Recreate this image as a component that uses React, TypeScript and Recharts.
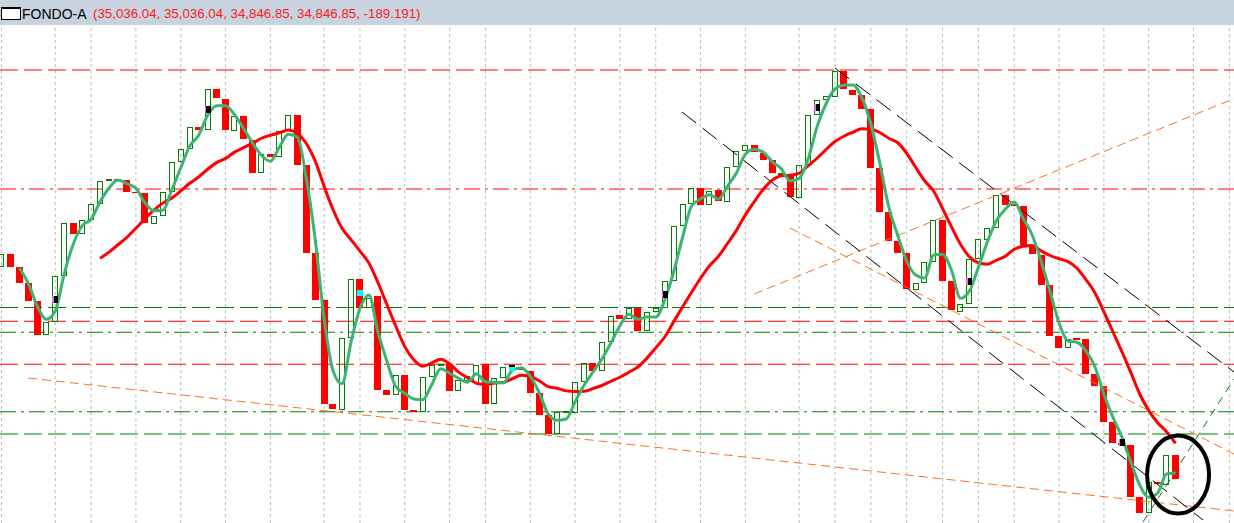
import {
  ComposedChart,
  Bar,
  Line,
  XAxis,
  YAxis,
  ReferenceLine,
  Scatter,
} from 'recharts';

// velas diarias (apertura / cierre)
const OPEN = [
  36543, 36647, 36543, 36415, 36271, 35999, 36103, 36471, 36895, 36807,
  36919, 37047, 37231, 37247, 37239, 37143, 37135, 36887, 36951, 37143,
  37383, 37487, 37663, 37639, 37967, 37887, 37631, 37751, 37559, 37295,
  37447, 37423, 37631, 37759, 37359, 36655, 36279, 35447, 35399, 35975,
  36447, 36215, 36311, 35559, 35519, 35679, 35399, 35383, 35663, 35759,
  35767, 35551, 35631, 35615, 35767, 35447, 35655, 35735, 35735, 35711,
  35535, 35359, 35207, 35383, 35375, 35623, 35775, 35711, 35943, 36159,
  36127, 36215, 36031, 36183, 36215, 36431, 36871, 37047, 37175, 37039,
  37159, 37063, 37343, 37471, 37519, 37455, 37399, 37279, 37287, 37095,
  37359, 37759, 37879, 37903, 38111, 37959, 37919, 37807, 37335, 36983,
  36751, 36655, 36359, 36415, 36583, 36919, 36431, 36183, 36247, 36607,
  36759, 36855, 37119, 37039, 37031, 36719, 36639, 36399, 35991, 35895,
  35975, 35967, 35687, 35591, 35303, 35135, 35119, 34703, 34575, 34823,
  34799, 35036.04,
];

const CLOSE = [
  36647, 36543, 36415, 36271, 35999, 36103, 36471, 36895, 36807, 36919,
  37047, 37231, 37247, 37239, 37143, 37135, 36895, 36951, 37143, 37383,
  37487, 37663, 37639, 37967, 37895, 37639, 37751, 37567, 37295, 37447,
  37423, 37631, 37759, 37359, 36655, 36279, 35447, 35407, 35975, 36447,
  36215, 36295, 35559, 35519, 35679, 35399, 35383, 35663, 35759, 35767,
  35551, 35639, 35671, 35759, 35447, 35655, 35743, 35751, 35719, 35535,
  35359, 35207, 35383, 35391, 35623, 35775, 35711, 35943, 36151, 36127,
  36215, 36031, 36183, 36215, 36431, 36871, 37047, 37175, 37039, 37151,
  37071, 37343, 37471, 37519, 37463, 37399, 37295, 37295, 37103, 37359,
  37759, 37879, 37911, 38111, 37967, 37919, 37807, 37335, 36983, 36751,
  36655, 36367, 36415, 36583, 36919, 36431, 36199, 36247, 36607, 36767,
  36855, 37119, 37039, 37031, 36719, 36647, 36399, 35991, 35895, 35967,
  35959, 35687, 35591, 35303, 35135, 35119, 34703, 34575, 34823, 34807,
  35036.04, 34846.85,
];

// media corta (verde) y media larga (roja)
const MA_FAST = [
  null, null, 36535, 36409, 36229, 36125, 36191, 36489, 36725, 36873,
  36925, 37065, 37175, 37239, 37209, 37173, 37057, 36993, 36997, 37159,
  37337, 37511, 37597, 37757, 37833, 37833, 37761, 37653, 37537, 37437,
  37389, 37501, 37605, 37583, 37257, 36765, 36127, 35711, 35609, 35943,
  36213, 36319, 36023, 35791, 35585, 35533, 35487, 35481, 35601, 35729,
  35693, 35653, 35621, 35689, 35625, 35621, 35615, 35717, 35737, 35669,
  35537, 35367, 35317, 35327, 35465, 35597, 35703, 35809, 35935, 36073,
  36165, 36125, 36143, 36143, 36277, 36505, 36783, 37031, 37087, 37121,
  37087, 37189, 37295, 37445, 37485, 37461, 37385, 37329, 37231, 37253,
  37407, 37665, 37849, 37967, 37997, 37999, 37897, 37687, 37375, 37023,
  36797, 36591, 36479, 36455, 36639, 36645, 36517, 36293, 36351, 36541,
  36743, 36913, 37005, 37063, 36929, 36799, 36589, 36345, 36095, 35951,
  35941, 35871, 35745, 35527, 35343, 35185, 34985, 34799, 34701, 34735,
  34887, 34895,
];

const MA_SLOW = [
  null, null, null, null, null, null, null, null, null, null,
  null, 36613, 36662, 36721, 36781, 36853, 36928, 36998, 37054, 37095,
  37152, 37213, 37263, 37325, 37378, 37412, 37462, 37498, 37532, 37573,
  37597, 37617, 37640, 37614, 37533, 37392, 37188, 37001, 36853, 36761,
  36670, 36574, 36419, 36243, 36069, 35906, 35801, 35749, 35775, 35805,
  35769, 35702, 35657, 35613, 35603, 35614, 35620, 35649, 35677, 35666,
  35633, 35586, 35573, 35552, 35548, 35549, 35571, 35595, 35629, 35661,
  35701, 35743, 35812, 35896, 35983, 36106, 36225, 36341, 36453, 36553,
  36629, 36731, 36836, 36960, 37066, 37165, 37237, 37273, 37277, 37293,
  37353, 37413, 37483, 37547, 37589, 37621, 37650, 37645, 37619, 37573,
  37537, 37453, 37341, 37233, 37151, 37011, 36864, 36725, 36625, 36577,
  36566, 36597, 36629, 36685, 36709, 36715, 36672, 36635, 36609, 36586,
  36533, 36442, 36337, 36185, 36027, 35868, 35700, 35527, 35396, 35297,
  35225, 35132,
];

// marcas de señal sobre algunas velas
const MARK_IDX = [6, 23, 40, 57, 74, 91, 108, 125];
const MARK_LEVEL = [36287, 37807, 36335, 35735, 36327, 37823, 36431, 35143];
const MARK_KIND = ['pivot', 'pivot', 'cyan', 'cyanBar', 'pivot', 'pivot', 'pivot', 'pivot'];

// separadores verticales (semanas)
const GRID_IDX = [0, 6, 10, 15, 20, 25, 30, 36, 40, 45, 50, 54, 59, 64, 69, 73, 78, 83, 89, 93, 97, 101, 105, 109, 113, 118, 123, 128, 133, 137];

// niveles horizontales
const RED_DASHED = [38119, 36109, 35765];
const RED_DASHDOT = [37167];
const GREEN_DASHED = [36219, 35207];
const GREEN_DASHDOT = [36021, 35385];

// lineas de tendencia [[x1, y1], [x2, y2]]
const ORANGE_LINES = [
  [[2.96, 35655], [137.52, 34591]],
  [[83.97, 36327], [137.52, 37890]],
  [[87.98, 36855], [137.52, 35047]],
];
const BLACK_LINES = [
  [[93.0, 38135], [137.52, 35703]],
  [[75.93, 37783], [134.07, 34519]],
];
const GREEN_TREND = [[127.37, 34503], [137.52, 35647]];
const CIRCLE_AT = [131.28, 34883];

const X_MIN = -0.167;
const X_MAX = 137.52;
const Y_MIN = 34495;
const Y_MAX = 38479;

const rows = OPEN.map((o, i) => ({
  i,
  open: o,
  close: CLOSE[i],
  body: [Math.min(o, CLOSE[i]), Math.max(o, CLOSE[i])],
  fast: MA_FAST[i],
  slow: MA_SLOW[i],
}));

const marks = MARK_IDX.map((i, n) => ({ i, lvl: MARK_LEVEL[n], kind: MARK_KIND[n] }));

const Candle = (props: any) => {
  const { x, y, width, height, payload } = props;
  const cx = x + width / 2;
  const h = Math.max(height, 1);
  if (payload.close >= payload.open) {
    return (
      <rect x={cx - 2.5} y={y + 0.5} width={5} height={Math.max(h - 1, 1)}
        fill="none" stroke="#008000" strokeWidth={1} shapeRendering="crispEdges" />
    );
  }
  return <rect x={cx - 3.5} y={y} width={7} height={h} fill="#ff0000" shapeRendering="crispEdges" />;
};

const Marker = (props: any) => {
  const { cx, cy, payload } = props;
  if (payload.kind === 'cyan') {
    return <rect x={cx - 3} y={cy - 3} width={6} height={6} fill="#00ffff" shapeRendering="crispEdges" />;
  }
  if (payload.kind === 'cyanBar') {
    return (
      <g shapeRendering="crispEdges">
        <rect x={cx - 3} y={cy - 3} width={6} height={2} fill="#000" />
        <rect x={cx - 3} y={cy - 1} width={6} height={4} fill="#00ffff" />
      </g>
    );
  }
  return (
    <g shapeRendering="crispEdges">
      <rect x={cx - 3} y={cy - 3.5} width={1.5} height={7} fill="#e070e0" />
      <rect x={cx - 1.5} y={cy - 3.5} width={4.5} height={7} fill="#000" />
    </g>
  );
};

const Ring = (props: any) => {
  const { cx, cy } = props;
  return <ellipse cx={cx} cy={cy} rx={31} ry={39} fill="none" stroke="#000" strokeWidth={4} />;
};

export default function App() {
  return (
    <div style={{ position: 'fixed', left: 0, top: 0, width: 1234, height: 523, background: '#fff', overflow: 'hidden' }}>
      <div style={{ position: 'absolute', left: 0, top: 0, width: 1234, height: 25, background: '#c7d3df', fontFamily: '"Liberation Sans", Arial, sans-serif', whiteSpace: 'pre' }}>
        <div style={{ position: 'absolute', left: 1, top: 7, width: 18, height: 10, border: '1px solid #000', borderTopWidth: 2, background: '#fff' }} />
        <span style={{ position: 'absolute', left: 22, top: 6, fontSize: 14, color: '#000' }}>FONDO-A</span>
        <span style={{ position: 'absolute', left: 93, top: 6, fontSize: 13.3, color: '#ff1a1a' }}>
          (35,036.04, 35,036.04, 34,846.85, 34,846.85, -189.191)
        </span>
      </div>
      <div style={{ position: 'absolute', left: 0, top: 25 }}>
        <ComposedChart width={1234} height={498} data={rows} margin={{ top: 0, right: 0, bottom: 0, left: 0 }}>
          <XAxis type="number" dataKey="i" domain={[X_MIN, X_MAX]} allowDataOverflow hide />
          <YAxis type="number" domain={[Y_MIN, Y_MAX]} allowDataOverflow hide />
          {GRID_IDX.map((g) => (
            <ReferenceLine key={`g${g}`} x={g} stroke="#bdbdbd" strokeDasharray="3 3" zIndex={-10} />
          ))}
          {RED_DASHED.map((v) => (
            <ReferenceLine key={`rd${v}`} y={v} stroke="#ff0000" strokeDasharray="18 6" zIndex={-5} />
          ))}
          {RED_DASHDOT.map((v) => (
            <ReferenceLine key={`rdd${v}`} y={v} stroke="#ff0000" strokeDasharray="16 5 3 5" zIndex={-5} />
          ))}
          {GREEN_DASHED.map((v) => (
            <ReferenceLine key={`gd${v}`} y={v} stroke="#008000" strokeDasharray="18 6" zIndex={-5} />
          ))}
          {GREEN_DASHDOT.map((v) => (
            <ReferenceLine key={`gdd${v}`} y={v} stroke="#008000" strokeDasharray="16 5 3 5" zIndex={-5} />
          ))}
          <Bar dataKey="body" shape={Candle} barSize={7} isAnimationActive={false} />
          <Scatter data={marks} dataKey="lvl" shape={Marker} isAnimationActive={false} />
          {ORANGE_LINES.map((l, n) => (
            <ReferenceLine key={`o${n}`} segment={[{ x: l[0][0], y: l[0][1] }, { x: l[1][0], y: l[1][1] }]}
              stroke="#ff7020" strokeDasharray="9 5" ifOverflow="visible" />
          ))}
          {BLACK_LINES.map((l, n) => (
            <ReferenceLine key={`b${n}`} segment={[{ x: l[0][0], y: l[0][1] }, { x: l[1][0], y: l[1][1] }]}
              stroke="#000" strokeDasharray="18 8" ifOverflow="visible" />
          ))}
          <ReferenceLine segment={[{ x: GREEN_TREND[0][0], y: GREEN_TREND[0][1] }, { x: GREEN_TREND[1][0], y: GREEN_TREND[1][1] }]}
            stroke="#008000" strokeDasharray="8 6" ifOverflow="visible" />
          <Line type="monotone" dataKey="slow" stroke="#ff0000" strokeWidth={3} dot={false} isAnimationActive={false} />
          <Line type="monotone" dataKey="fast" stroke="#3cb371" strokeWidth={3} dot={false} isAnimationActive={false} />
          <Scatter data={[{ i: CIRCLE_AT[0], lvl: CIRCLE_AT[1] }]} dataKey="lvl" shape={Ring} isAnimationActive={false} />
        </ComposedChart>
      </div>
    </div>
  );
}
